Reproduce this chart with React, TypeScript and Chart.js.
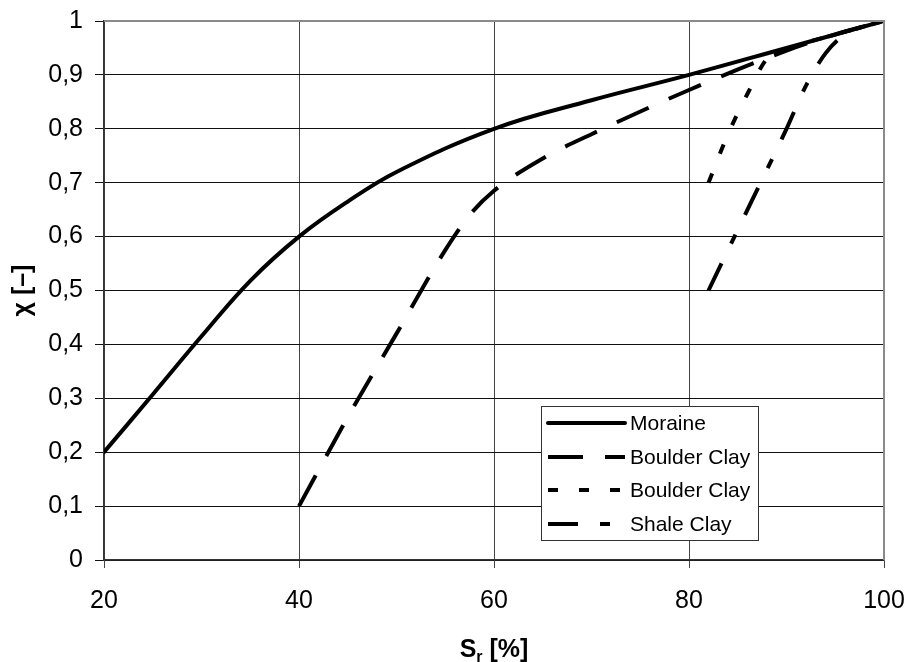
import React, { useEffect, useRef } from "react";
import { Chart, registerables } from "chart.js";

Chart.register(...registerables);

// ---- data ----
const moraineX = [20, 25, 30, 35, 40, 45, 50, 60, 70, 80, 90, 100];
const moraineY = [0.2, 0.307, 0.415, 0.518, 0.6, 0.665, 0.72, 0.8, 0.853, 0.9, 0.95, 1.0];

const boulder1X = [40, 45, 50, 55, 57.5, 60, 65, 70, 80, 90, 95, 100];
const boulder1Y = [0.1, 0.265, 0.42, 0.575, 0.64, 0.685, 0.745, 0.79, 0.872, 0.945, 0.975, 1.0];

const boulder2X = [82, 84, 86, 88, 90, 95, 100];
const boulder2Y = [0.7, 0.79, 0.865, 0.93, 0.948, 0.975, 1.0];

const shaleX = [82, 86, 90, 92, 94, 96, 100];
const shaleY = [0.5, 0.65, 0.8, 0.88, 0.94, 0.975, 1.0];

const seriesNames = ["Moraine", "Boulder Clay", "Boulder Clay", "Shale Clay"];
const seriesDash: number[][] = [[], [35, 22], [10, 21], [30, 22, 10, 22]];

const xTicks = [20, 40, 60, 80, 100];
const yTicks = [0, 0.1, 0.2, 0.3, 0.4, 0.5, 0.6, 0.7, 0.8, 0.9, 1];

const FONT = '"Liberation Sans", Arial, sans-serif';

function pts(xs: number[], ys: number[]) {
  return xs.map((x, i) => ({ x, y: ys[i] }));
}

const decorPlugin = {
  id: "decor",
  afterDraw(chart: any) {
    const { ctx, chartArea } = chart;
    const { left, right, top, bottom } = chartArea;
    ctx.save();
    // top and right frame (gray)
    ctx.strokeStyle = "#8a8a8a";
    ctx.lineWidth = 2;
    ctx.beginPath();
    ctx.moveTo(left, top);
    ctx.lineTo(right, top);
    ctx.lineTo(right, bottom);
    ctx.stroke();

    // legend
    const lx = 541, ly = 406, lw = 217, lh = 134;
    ctx.fillStyle = "#fff";
    ctx.fillRect(lx, ly, lw, lh);
    ctx.strokeStyle = "#333";
    ctx.lineWidth = 1;
    ctx.strokeRect(lx + 0.5, ly + 0.5, lw, lh);
    const rows = [423, 457, 490, 524];
    ctx.font = `21px ${FONT}`;
    ctx.textBaseline = "middle";
    ctx.textAlign = "left";
    seriesNames.forEach((name, i) => {
      ctx.save();
      ctx.strokeStyle = "#000";
      ctx.lineWidth = 4;
      ctx.lineCap = i === 0 ? "round" : "butt";
      ctx.setLineDash(seriesDash[i]);
      ctx.beginPath();
      ctx.moveTo(548, rows[i]);
      ctx.lineTo(625, rows[i]);
      ctx.stroke();
      ctx.restore();
      ctx.fillStyle = "#000";
      ctx.fillText(name, 630, rows[i] + 1);
    });

    // x axis title: S_r [%]
    const cx = (left + right) / 2;
    const ty = 648;
    ctx.fillStyle = "#000";
    ctx.textBaseline = "alphabetic";
    const big = `bold 25px ${FONT}`;
    const small = `bold 16px ${FONT}`;
    ctx.font = big;
    const wS = ctx.measureText("S").width;
    const wRest = ctx.measureText(" [%]").width;
    ctx.font = small;
    const wr = ctx.measureText("r").width;
    const total = wS + wr + wRest;
    const x0 = cx - total / 2;
    const base = ty + 9;
    ctx.font = big;
    ctx.fillText("S", x0, base);
    ctx.font = small;
    ctx.fillText("r", x0 + wS, base + 5);
    ctx.font = big;
    ctx.fillText(" [%]", x0 + wS + wr, base);

    // y axis title
    ctx.save();
    ctx.translate(23, (top + bottom) / 2);
    ctx.rotate(-Math.PI / 2);
    ctx.font = `bold 25px ${FONT}`;
    ctx.textAlign = "center";
    ctx.textBaseline = "middle";
    ctx.fillText("χ [–]", 0, 0);
    ctx.restore();

    ctx.restore();
  },
};

export default function App() {
  const ref = useRef<HTMLCanvasElement | null>(null);

  useEffect(() => {
    if (!ref.current) return;
    const common = {
      borderColor: "#000",
      backgroundColor: "#000",
      borderWidth: 4,
      pointRadius: 0,
      fill: false,
      cubicInterpolationMode: "monotone" as const,
    };
    const chart = new Chart(ref.current, {
      type: "line",
      data: {
        datasets: [
          {
            ...common,
            cubicInterpolationMode: "default",
            tension: 0.4,
            label: seriesNames[0],
            data: pts(moraineX, moraineY),
            borderDash: seriesDash[0],
            borderCapStyle: "round",
          },
          { ...common, label: seriesNames[1], data: pts(boulder1X, boulder1Y), borderDash: seriesDash[1] },
          { ...common, label: seriesNames[2], data: pts(boulder2X, boulder2Y), borderDash: seriesDash[2] },
          { ...common, label: seriesNames[3], data: pts(shaleX, shaleY), borderDash: seriesDash[3] },
        ] as any,
      },
      options: {
        animation: false,
        responsive: false,
        maintainAspectRatio: false,
        layout: { padding: { left: 0, top: 21, right: 24, bottom: 0 } },
        plugins: { legend: { display: false }, tooltip: { enabled: false } },
        scales: {
          x: {
            type: "linear",
            min: 20,
            max: 100,
            afterBuildTicks: (s: any) => {
              s.ticks = xTicks.map((v) => ({ value: v }));
            },
            afterFit: (s: any) => {
              s.height = 102;
              s.paddingLeft = 0;
              s.paddingRight = 0;
            },
            ticks: {
              color: "#000",
              font: { family: FONT, size: 25 },
              padding: 18,
              maxRotation: 0,
              callback: (v: any) => String(v),
            },
            grid: { color: "#444", lineWidth: 1, tickLength: 8, drawTicks: true },
            border: { color: "#333", width: 1.5 },
          },
          y: {
            type: "linear",
            min: 0,
            max: 1,
            afterBuildTicks: (s: any) => {
              s.ticks = yTicks.map((v) => ({ value: v }));
            },
            afterFit: (s: any) => {
              s.width = 104;
              s.paddingTop = 0;
              s.paddingBottom = 0;
            },
            ticks: {
              color: "#000",
              font: { family: FONT, size: 25 },
              padding: 12,
              callback: (v: any) => {
                const r = Math.round(Number(v) * 10) / 10;
                if (r === 0) return "0";
                if (r === 1) return "1";
                return r.toFixed(1).replace(".", ",");
              },
            },
            grid: { color: "#111", lineWidth: 1, tickLength: 9, drawTicks: true },
            border: { color: "#333", width: 1.5 },
          },
        },
      },
      plugins: [decorPlugin],
    });
    return () => chart.destroy();
  }, []);

  return (
    <div style={{ position: "fixed", left: 0, top: 0, width: 908, height: 662, background: "#fff" }}>
      <canvas ref={ref} width={908} height={662} style={{ width: 908, height: 662, display: "block" }} />
    </div>
  );
}
